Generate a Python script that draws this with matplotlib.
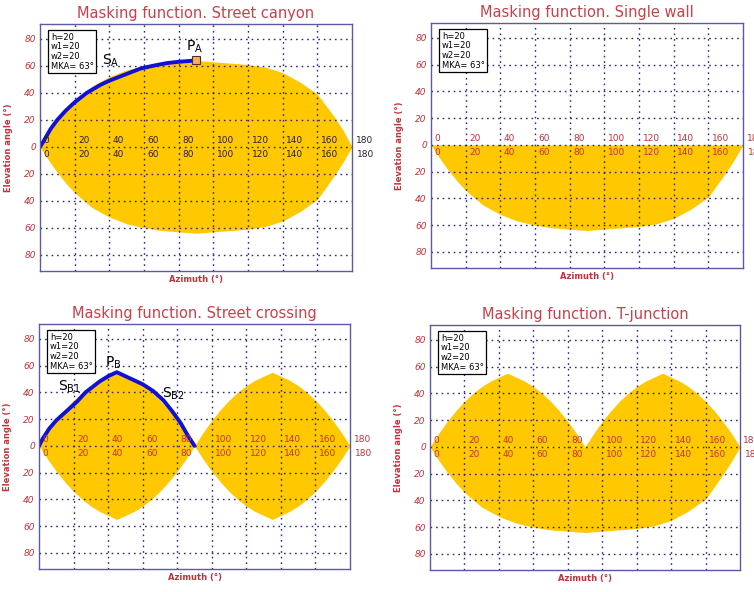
import matplotlib
matplotlib.use("Agg")
import matplotlib.pyplot as plt

# ---------------- data ----------------
# Street canyon: upper and lower mask boundary (azimuth deg, elevation deg)
canyon_az = [0, 5, 10, 15, 20, 30, 40, 50, 60, 70, 80, 90, 100, 110, 120, 130, 140, 150, 160, 170, 175, 180]
canyon_up = [0, 10, 19, 27, 34, 45, 52, 57, 60, 62, 63, 64, 63, 62, 61, 59, 55, 48, 39, 22, 12, 0]
canyon_lo = [0, -10, -19, -27, -34, -45, -52, -57, -60, -62, -63, -64, -63, -62, -61, -59, -55, -48, -39, -21, -11, 0]

# Blue curve S_A and point P_A
sa_az = [0, 2, 6, 10, 15, 20, 27, 35, 40, 50, 58, 65, 73, 80, 90]
sa_el = [0, 4, 13, 20, 27, 33, 40, 46, 49, 54, 58, 60, 62, 63, 64]
pa_az, pa_el = 90, 64

# Street crossing: two lobes above and below the horizon
cross_az = [0, 5, 10, 15, 20, 25, 30, 35, 40, 45, 50, 55, 60, 65, 70, 75, 80, 85, 90,
            95, 100, 105, 110, 115, 120, 125, 130, 135, 140, 145, 150, 155, 160, 165, 170, 175, 180]
cross_up = [0, 10, 19, 27, 34, 40, 45, 49, 52, 55, 52, 49, 45, 40, 34, 27, 19, 10, 0,
            10, 19, 27, 34, 40, 45, 49, 52, 55, 52, 49, 45, 40, 34, 27, 19, 10, 0]
cross_lo = [0, -10, -19, -27, -34, -40, -45, -49, -52, -55, -52, -49, -45, -40, -34, -27, -19, -10, 0,
            -10, -19, -27, -34, -40, -45, -49, -52, -55, -52, -49, -45, -40, -34, -27, -19, -10, 0]

# Blue curves S_B1 / S_B2 and point P_B
sb_az = [0, 2, 6, 10, 16, 22, 27, 35, 40, 45, 50, 55, 60, 66, 72, 77, 82, 86, 90]
sb_el = [0, 5, 13, 19, 26, 33, 40, 48, 52, 55, 52, 49, 46, 41, 34, 26, 17, 8, 0]

ticks_x = [0, 20, 40, 60, 80, 100, 120, 140, 160]
ticks_y = [-80, -60, -40, -20, 0, 20, 40, 60, 80]
ytick_labels = ["80", "60", "40", "20", "0", "20", "40", "60", "80"]
param_text = "h=20\nw1=20\nw2=20\nMKA= 63°"

titles = ["Masking function. Street canyon", "Masking function. Single wall",
          "Masking function. Street crossing", "Masking function. T-junction"]

# ---------------- style ----------------
YELLOW = "#ffc800"
RED = "#c2323c"
TITLE_RED = "#c8404a"
NAVY = "#2a2a88"
FRAME = "#5a5aa8"
BLUE = "#1010d8"
DARK = "#2a2030"

fig = plt.figure(figsize=(7.54, 5.92), dpi=100)
rects = [
    [40 / 754, (592 - 271) / 592, 312 / 754, 247 / 592],
    [431 / 754, (592 - 268) / 592, 312 / 754, 245 / 592],
    [39 / 754, (592 - 569) / 592, 311 / 754, 245 / 592],
    [430 / 754, (592 - 570) / 592, 310 / 754, 245 / 592],
]
axes = [fig.add_axes(r) for r in rects]


def base(ax, title, label_color):
    ax.set_xlim(0, 180)
    ax.set_ylim(-92, 91)
    ax.set_xticks(ticks_x[1:])
    ax.set_xticklabels([])
    ax.set_yticks(ticks_y)
    ax.set_yticklabels(ytick_labels, fontsize=6.5, style="italic", color=RED)
    ax.tick_params(axis="both", length=0, pad=3)
    ax.grid(True, color=NAVY, linestyle=(0, (1.2, 2.8)), linewidth=1.0)
    ax.set_axisbelow(False)
    for s in ax.spines.values():
        s.set_color(FRAME)
        s.set_linewidth(1.0)
        s.set_zorder(5)
    ax.set_title(title, fontsize=10.5, color=TITLE_RED, pad=4)
    ax.set_ylabel("Elevation angle (°)", fontsize=6, color=RED, fontweight="bold", labelpad=4)
    ax.yaxis.set_label_coords(-0.087, 0.5)
    ax.text(0.5, -0.035, "Azimuth (°)", transform=ax.transAxes, ha="center", va="center",
            fontsize=6, color=RED, fontweight="bold")
    # inner azimuth labels along the horizon
    for t in ticks_x:
        ax.text(t + 2, 4.5, str(t), fontsize=6.5, color=label_color, ha="left", va="center", zorder=6)
        ax.text(t + 2, -5.5, str(t), fontsize=6.5, color=label_color, ha="left", va="center", zorder=6)
    ax.text(182, 4.5, "180", fontsize=6.5, color=label_color, ha="left", va="center", clip_on=False)
    ax.text(183, -5.5, "180", fontsize=6.5, color=label_color, ha="left", va="center", clip_on=False)
    ax.text(0.035, 0.965, param_text, transform=ax.transAxes, ha="left", va="top",
            fontsize=6, color="black", linespacing=1.1, zorder=7,
            bbox=dict(boxstyle="square,pad=0.3", facecolor="white", edgecolor="black", linewidth=0.9))


# Street canyon
ax = axes[0]
ax.fill_between(canyon_az, canyon_lo, canyon_up, color=YELLOW, linewidth=0, zorder=1)
base(ax, titles[0], DARK)
ax.plot(sa_az, sa_el, color=BLUE, linewidth=2.8, zorder=4, solid_capstyle="round")
ax.plot([pa_az], [pa_el], marker="s", markersize=5.5, markerfacecolor="#f0b060",
        markeredgecolor="#503020", markeredgewidth=0.8, zorder=5)
ax.text(36, 64, r"$\mathregular{S_A}$", fontsize=10, color="black", ha="left", va="center", zorder=6)
ax.text(84, 74, r"$\mathregular{P_A}$", fontsize=10, color="black", ha="left", va="center", zorder=6)

# Single wall
ax = axes[1]
ax.fill_between(canyon_az, canyon_lo, 0, color=YELLOW, linewidth=0, zorder=1)
base(ax, titles[1], RED)

# Street crossing
ax = axes[2]
ax.fill_between(cross_az, cross_lo, cross_up, color=YELLOW, linewidth=0, zorder=1)
base(ax, titles[2], RED)
ax.plot(sb_az, sb_el, color=BLUE, linewidth=2.8, zorder=4, solid_capstyle="round")
ax.text(38, 62, r"$\mathregular{P_B}$", fontsize=10, color="black", ha="left", va="center", zorder=6)
ax.text(11, 44, r"$\mathregular{S_{B1}}$", fontsize=10, color="black", ha="left", va="center", zorder=6)
ax.text(71, 39, r"$\mathregular{S_{B2}}$", fontsize=10, color="black", ha="left", va="center", zorder=6)

# T-junction
ax = axes[3]
ax.fill_between(cross_az, 0, cross_up, color=YELLOW, linewidth=0, zorder=1)
ax.fill_between(canyon_az, canyon_lo, 0, color=YELLOW, linewidth=0, zorder=1)
base(ax, titles[3], RED)

fig.savefig("out.png", dpi=100, facecolor="white")
